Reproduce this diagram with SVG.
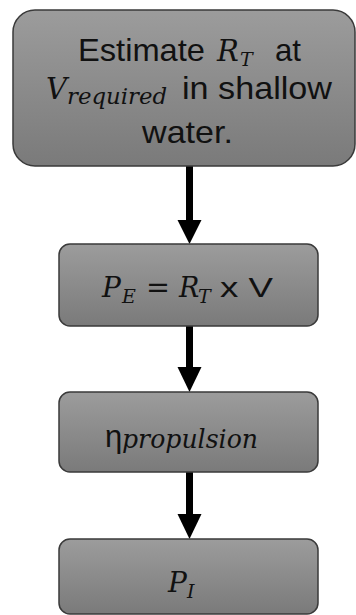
<svg xmlns="http://www.w3.org/2000/svg" width="356" height="615" viewBox="0 0 356 615">
<defs>
<linearGradient id="g" x1="0" y1="0" x2="0" y2="1">
<stop offset="0" stop-color="#9c9c9c"/>
<stop offset="1" stop-color="#7a7a7a"/>
</linearGradient>
<style>
.box{fill:url(#g);stroke:#3a3a3a;stroke-width:1.5}
.sans{font-family:"Liberation Sans","DejaVu Sans",sans-serif;fill:#111}
.math{font-family:"DejaVu Serif","Liberation Serif",serif;font-style:italic;fill:#111}
.up{font-family:"DejaVu Serif","Liberation Serif",serif;fill:#111}
.conn{stroke:#000;stroke-width:7;fill:none}
.head{fill:#000}
</style>
</defs>
<rect width="356" height="615" fill="#fff"/>
<g id="connectors">
<line class="conn" x1="189.5" y1="166" x2="189.5" y2="222"/>
<path class="head" d="M177.5,220 L201.5,220 L189.5,244 Z"/>
<line class="conn" x1="189.5" y1="326" x2="189.5" y2="369"/>
<path class="head" d="M177.5,367 L201.5,367 L189.5,392 Z"/>
<line class="conn" x1="189.5" y1="472" x2="189.5" y2="516"/>
<path class="head" d="M177.5,514 L201.5,514 L189.5,539 Z"/>
</g>
<g id="node1">
<rect class="box" x="13" y="10" width="342" height="156" rx="22" ry="22"/>
<text class="sans" x="78" y="61" font-size="32" textLength="127" lengthAdjust="spacingAndGlyphs">Estimate</text>
<text class="math" x="217" y="61" font-size="29">R<tspan x="240" y="66" font-size="19">T</tspan></text>
<text class="sans" x="275" y="61" font-size="32" textLength="26" lengthAdjust="spacingAndGlyphs">at</text>
<text class="math" x="46" y="99" font-size="29">V<tspan x="67" y="104" font-size="22" textLength="100" lengthAdjust="spacingAndGlyphs">required</tspan></text>
<text class="sans" x="182" y="99" font-size="32" textLength="150" lengthAdjust="spacingAndGlyphs">in shallow</text>
<text class="sans" x="142" y="143" font-size="32" textLength="91" lengthAdjust="spacingAndGlyphs">water.</text>
</g>
<g id="node2">
<rect class="box" x="59" y="244" width="259" height="82" rx="11" ry="11"/>
<text class="math" x="102" y="297" font-size="28">P<tspan x="122" y="303" font-size="19">E</tspan></text>
<text class="up" x="146" y="297" font-size="30" textLength="24" lengthAdjust="spacingAndGlyphs">=</text>
<text class="math" x="179" y="297" font-size="27">R<tspan x="198" y="303" font-size="19">T</tspan></text>
<text class="sans" x="220" y="297" font-size="28" textLength="53" lengthAdjust="spacingAndGlyphs">x V</text>
</g>
<g id="node3">
<rect class="box" x="59" y="392" width="259" height="80" rx="11" ry="11"/>
<text class="sans" x="105" y="447" font-size="31">η<tspan x="122" y="448" font-size="26" textLength="136" lengthAdjust="spacingAndGlyphs" style="font-family:'DejaVu Serif','Liberation Serif',serif;font-style:italic">propulsion</tspan></text>
</g>
<g id="node4">
<rect class="box" x="59" y="539" width="259" height="75" rx="11" ry="11"/>
<text class="math" x="168" y="592" font-size="28">P<tspan x="187" y="598" font-size="19">I</tspan></text>
</g>
</svg>
